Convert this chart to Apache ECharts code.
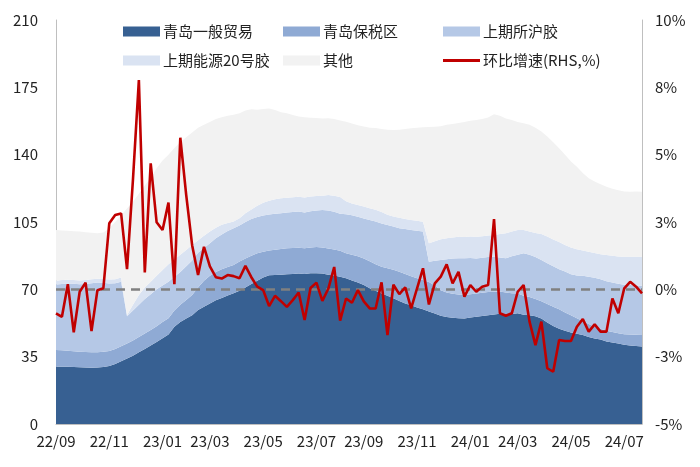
<!DOCTYPE html>
<html><head><meta charset="utf-8">
<script src="https://cdn.jsdelivr.net/npm/echarts@6/dist/echarts.min.js"></script>
<style>html,body{margin:0;padding:0;background:#fff}#c{width:700px;height:467px}</style>
</head><body><div id="c"></div>
<script>
const categories = ['2022-09-02','2022-09-09','2022-09-16','2022-09-23','2022-09-30','2022-10-07','2022-10-14','2022-10-21','2022-10-28','2022-11-04','2022-11-11','2022-11-18','2022-11-25','2022-12-02','2022-12-09','2022-12-16','2022-12-23','2022-12-30',
'2023-01-06','2023-01-13','2023-01-20','2023-01-27','2023-02-03','2023-02-10','2023-02-17','2023-02-24','2023-03-03','2023-03-10','2023-03-17','2023-03-24','2023-03-31','2023-04-07','2023-04-14','2023-04-21','2023-04-28','2023-05-05','2023-05-12','2023-05-19','2023-05-26','2023-06-02','2023-06-09','2023-06-16','2023-06-23','2023-06-30','2023-07-07','2023-07-14','2023-07-21','2023-07-28','2023-08-04','2023-08-11','2023-08-18','2023-08-25','2023-09-01','2023-09-08','2023-09-15','2023-09-22','2023-09-29','2023-10-06','2023-10-13','2023-10-20','2023-10-27','2023-11-03','2023-11-10','2023-11-17','2023-11-24','2023-12-01','2023-12-08','2023-12-15','2023-12-22','2023-12-29',
'2024-01-05','2024-01-12','2024-01-19','2024-01-26','2024-02-02','2024-02-09','2024-02-16','2024-02-23','2024-03-01','2024-03-08','2024-03-15','2024-03-22','2024-03-29','2024-04-05','2024-04-12','2024-04-19','2024-04-26','2024-05-03','2024-05-10','2024-05-17','2024-05-24','2024-05-31','2024-06-07','2024-06-14','2024-06-21','2024-06-28','2024-07-05','2024-07-12','2024-07-19','2024-07-26'];

const seriesNames = ['青岛一般贸易','青岛保税区','上期所沪胶','上期能源20号胶','其他','环比增速(RHS,%)'];

const qdGeneral = [29.8,29.8,29.7,29.6,29.5,29.4,29.3,29.4,29.6,30.1,31.2,32.6,34.0,35.5,37.3,39.0,40.8,42.6,44.6,46.5,50.5,53.0,54.8,56.5,59.2,61.0,62.6,64.3,65.5,66.8,67.9,69.3,71.0,72.8,74.5,76.2,77.3,77.5,77.6,77.8,78.0,78.2,78.0,78.3,78.4,78.2,77.6,77.2,76.6,75.7,74.6,73.6,72.2,70.6,69.2,67.8,66.6,65.4,64.0,62.7,61.7,60.6,59.6,58.5,57.5,56.3,55.6,55.2,55.0,54.9,55.3,55.7,56.2,56.5,56.9,57.3,57.0,57.2,57.6,56.8,56.5,56.0,54.9,52.8,51.0,49.5,48.5,47.6,46.9,46.2,45.2,44.5,43.9,42.9,42.4,41.8,41.2,40.8,40.5,40.3];

const qdBonded = [8.7,8.6,8.4,8.2,8.1,8.0,8.0,7.9,7.9,7.8,7.8,7.8,7.9,7.9,7.9,8.0,8.1,8.2,8.4,8.5,8.5,9.0,9.7,10.5,11.8,13.5,14.4,14.7,15.0,14.8,14.7,15.2,15.0,14.7,14.3,13.4,12.9,13.1,13.4,13.5,13.5,13.4,13.3,13.5,13.6,13.5,13.6,13.5,13.4,13.1,13.4,13.6,13.8,14.0,13.9,14.0,14.3,14.8,15.2,15.3,15.1,15.2,15.2,15.3,14.5,13.2,12.8,12.5,12.3,12.3,12.2,12.1,12.0,12.1,11.9,11.6,11.4,10.8,10.2,9.8,9.5,9.0,8.9,9.6,10.0,10.1,9.5,8.9,8.1,7.4,6.8,6.1,5.6,5.6,5.4,5.4,5.5,5.7,5.9,6.0];

const shfeRu = [34.0,34.4,34.9,35.1,35.0,35.4,35.9,36.2,35.9,35.1,34.2,33.6,14.1,15.6,16.8,18.0,18.6,19.2,19.0,19.0,17.5,17.0,17.5,18.0,18.0,17.0,17.0,17.5,18.0,18.7,19.1,18.7,19.0,19.0,18.8,18.8,18.7,18.7,18.6,18.6,18.7,18.8,18.7,18.8,19.0,19.6,19.8,19.6,19.3,20.2,20.5,20.5,20.8,21.4,22.1,22.4,22.5,22.4,22.6,23.3,24.0,24.6,25.2,10.6,12.8,15.7,17.2,18.3,18.9,18.9,18.8,18.2,18.2,18.2,18.2,17.7,17.7,19.2,20.2,22.1,22.0,21.8,21.4,21.1,21.0,20.9,21.3,21.3,22.2,23.4,24.6,25.4,25.7,25.7,25.7,25.7,25.7,25.7,25.6,25.5];

const ineNr = [2.0,2.0,2.0,2.0,2.0,2.0,2.0,2.0,2.0,2.1,2.1,2.2,0.6,3.0,5.0,6.0,6.5,7.0,8.0,9.0,9.0,9.0,8.5,8.0,6.5,6.3,6.0,5.5,5.1,4.2,3.6,3.8,4.5,5.0,5.9,6.6,7.1,7.5,7.7,7.7,7.7,7.7,7.8,7.6,7.5,7.4,8.0,8.3,8.7,6.8,6.1,6.2,6.2,6.2,6.2,6.0,5.4,5.3,5.4,5.3,5.2,5.2,5.1,9.5,10.2,10.8,11.0,11.0,11.1,11.1,11.1,11.3,11.2,11.2,11.3,12.2,13.1,12.8,12.8,12.1,12.0,12.5,13.6,14.0,13.9,14.1,13.7,14.0,13.6,13.2,13.0,12.9,13.1,13.6,13.9,14.2,14.6,14.8,15.0,15.2];

const others = [26.3,25.8,25.4,25.3,25.4,24.9,24.2,23.6,24.2,26.6,29.7,32.3,55.4,53.5,52.7,53.0,54.0,56.0,57.0,57.0,58.0,58.5,58.5,58.5,58.5,57.7,57.0,56.5,55.9,55.7,55.5,54.5,53.5,52.1,49.8,48.7,48.0,46.4,44.7,43.9,42.7,41.7,41.7,41.0,40.5,40.1,39.9,39.9,39.8,41.3,41.6,41.4,41.6,41.8,42.4,43.2,44.2,44.9,45.8,46.8,47.7,48.4,49.1,60.5,59.5,58.8,58.9,59.0,59.2,59.8,60.2,60.7,60.9,61.3,62.7,61.4,59.6,58.0,56.2,55.5,55.5,54.7,53.2,52.0,50.6,48.7,47.0,44.7,42.9,40.3,38.1,37.1,36.3,35.5,34.9,34.4,33.8,33.7,33.8,33.7];

const momGrowth = [-0.89,-1.02,0.19,-1.60,-0.09,0.25,-1.55,-0.03,0.04,2.45,2.76,2.82,0.75,4.07,7.77,0.63,4.68,2.49,2.20,3.22,0.19,5.63,3.50,1.64,0.53,1.58,0.85,0.45,0.40,0.53,0.49,0.41,0.87,0.45,0.10,-0.03,-0.62,-0.24,-0.44,-0.65,-0.40,-0.12,-1.14,0.05,0.25,-0.43,0.02,0.83,-1.16,-0.34,-0.50,-0.03,-0.45,-0.71,-0.71,0.26,-1.70,0.17,-0.18,0.07,-0.71,0.04,0.78,-0.56,0.22,0.47,0.93,0.22,0.65,-0.27,0.16,-0.09,0.10,0.16,2.61,-0.89,-0.98,-0.89,-0.09,0.16,-1.20,-2.07,-1.20,-2.93,-3.06,-1.88,-1.92,-1.92,-1.39,-1.10,-1.57,-1.30,-1.57,-1.57,-0.34,-0.89,0.04,0.28,0.10,-0.15];

const leftTicks = {min: 0, max: 210, interval: 35};
const rightTicks = {min: -5, max: 10, interval: 2.5};

const colors = ['#376092','#8FAAD4','#B5C8E6','#DAE3F2','#F2F2F2','#C00000'];
const FONT = '"Noto Sans CJK SC", "Noto Sans", sans-serif';

function labelIndex(idx) {
  const c = categories[idx];
  const m = parseInt(c.slice(5,7), 10);
  if (idx === 0) return true;
  const pm = parseInt(categories[idx-1].slice(5,7), 10);
  return m !== pm && (m % 2 === 1);
}

const areaData = [qdGeneral, qdBonded, shfeRu, ineNr, others];
const series = areaData.map((d, i) => ({
  name: seriesNames[i], type: 'line', stack: 'inv', data: d,
  symbol: 'none', showSymbol: false, color: colors[i],
  lineStyle: {width: 0}, areaStyle: {color: colors[i], opacity: 1},
  z: 2
}));
series.push({
  name: 'zeroline', type: 'line', yAxisIndex: 1, data: [], symbol: 'none', z: 3,
  markLine: {silent: true, symbol: 'none', label: {show: false},
    lineStyle: {color: '#808080', type: [9, 6], width: 2.5},
    data: [{yAxis: 0}]}
});
series.push({
  name: seriesNames[5], type: 'line', yAxisIndex: 1, data: momGrowth,
  symbol: 'none', showSymbol: false, color: colors[5],
  lineStyle: {width: 2.6, color: colors[5]}, z: 5
});

function legendCol(names, left) {
  return {
    orient: 'vertical', left: left, top: 19, itemGap: 14,
    itemWidth: 37, itemHeight: 10, selectedMode: false, symbolKeepAspect: true,
    textStyle: {fontSize: 15, color: '#222', fontFamily: FONT, padding: [0,0,0,-2]},
    data: names.map(n => n === seriesNames[5]
      ? {name: n, icon: 'path://M0,0H37V3H0Z'}
      : {name: n, icon: 'rect'})
  };
}

function pctLabel(v) {
  const r = Math.sign(v) * Math.round(Math.abs(v));
  return r + '%';
}

const chart = echarts.init(document.getElementById('c'), null, {renderer: 'canvas'});
chart.setOption({
  animation: false,
  textStyle: {fontFamily: FONT},
  grid: {left: 56, right: 58, top: 20, bottom: 43, containLabel: false},
  legend: [
    legendCol([seriesNames[0], seriesNames[3]], 118),
    legendCol([seriesNames[1], seriesNames[4]], 278),
    legendCol([seriesNames[2], seriesNames[5]], 438)
  ],
  xAxis: {
    type: 'category', data: categories, boundaryGap: false,
    axisLine: {show: true, lineStyle: {color: '#BFBFBF', width: 1}},
    axisTick: {show: false},
    axisLabel: {
      interval: (idx) => labelIndex(idx),
      formatter: (v) => v.slice(2,4) + '/' + v.slice(5,7),
      fontSize: 15, color: '#222', margin: 10, fontFamily: FONT
    },
    splitLine: {show: false}
  },
  yAxis: [
    {type: 'value', min: leftTicks.min, max: leftTicks.max, interval: leftTicks.interval,
     axisLine: {show: true, lineStyle: {color: '#BFBFBF'}}, axisTick: {show: false},
     splitLine: {show: false},
     axisLabel: {fontSize: 15, color: '#222', margin: 18, fontFamily: FONT}},
    {type: 'value', min: rightTicks.min, max: rightTicks.max, interval: rightTicks.interval,
     position: 'right',
     axisLine: {show: true, lineStyle: {color: '#BFBFBF'}}, axisTick: {show: false},
     splitLine: {show: false},
     axisLabel: {fontSize: 15, color: '#222', margin: 13, fontFamily: FONT,
       formatter: pctLabel}}
  ],
  series: series
});
</script>
</body></html>
